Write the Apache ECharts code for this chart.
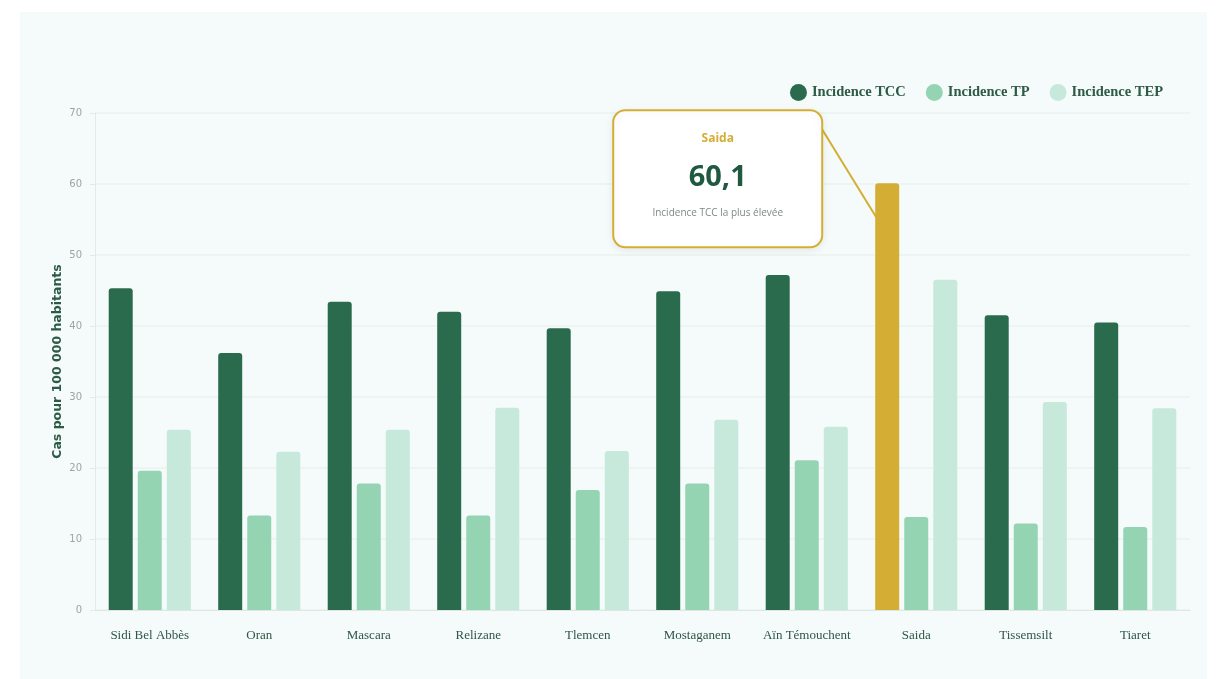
<!DOCTYPE html>
<html lang="fr">
<head>
<meta charset="utf-8">
<title>Incidence de la tuberculose par wilaya</title>
<script src="https://cdn.jsdelivr.net/npm/echarts@6/dist/echarts.min.js"></script>
<style>
  html, body { margin: 0; padding: 0; background: #ffffff; }
  body { width: 1216px; height: 679px; position: relative; overflow: hidden; }
  #panel { position: absolute; left: 20px; top: 12px; width: 1187px; height: 667px; background: #f4fbfa; }
  #chart { position: absolute; left: 0; top: 0; width: 1216px; height: 679px; }
</style>
</head>
<body>
<div id="panel"></div>
<div id="chart"></div>
<script>
// Wilayas (x axis)
const wilayas = ['Sidi Bel Abbès', 'Oran', 'Mascara', 'Relizane', 'Tlemcen',
                 'Mostaganem', 'Aïn Témouchent', 'Saida', 'Tissemsilt', 'Tiaret'];
// Incidence, cas pour 100 000 habitants
const incidenceTCC = [45.3, 36.2, 43.4, 42.0, 39.7, 44.9, 47.2, 60.1, 41.5, 40.5];
const incidenceTP  = [19.6, 13.3, 17.8, 13.3, 16.9, 17.8, 21.1, 13.1, 12.2, 11.7];
const incidenceTEP = [25.4, 22.3, 25.4, 28.5, 22.4, 26.8, 25.8, 46.5, 29.3, 28.4];
const seriesNames = ['Incidence TCC', 'Incidence TP', 'Incidence TEP'];
const yTicks = { min: 0, max: 70, interval: 10 };

// Highlighted wilaya: highest TCC incidence
const peakIndex = incidenceTCC.indexOf(Math.max(...incidenceTCC));

const COLORS = { tcc: '#2b6b4d', tp: '#95d4b3', tep: '#c6e9db', gold: '#d4ae34' };

const chart = echarts.init(document.getElementById('chart'), null, { renderer: 'canvas' });

const tccData = incidenceTCC.map((v, i) => i === peakIndex
  ? { value: v, itemStyle: { color: COLORS.gold } }
  : v);

const barCommon = {
  type: 'bar',
  barWidth: 24,
  barGap: '21%',
  barCategoryGap: '34%',
  itemStyle: { borderRadius: [3, 3, 0, 0] },
  emphasis: { disabled: true }
};

chart.setOption({
  animation: false,
  backgroundColor: 'transparent',
  legend: {
    data: seriesNames,
    right: 48,
    top: 79,
    icon: 'circle',
    itemWidth: 17,
    itemHeight: 17,
    itemGap: 20,
    textStyle: { fontFamily: 'Liberation Serif', fontSize: 14.5, fontWeight: 'bold', color: '#2e5a46' }
  },
  grid: { left: 95, right: 26, top: 113, bottom: 69 },
  xAxis: {
    type: 'category',
    data: wilayas,
    axisLine: { lineStyle: { color: '#dfe7e3', width: 1 } },
    axisTick: { show: false },
    axisLabel: { margin: 19, fontFamily: 'Liberation Serif', fontSize: 13, color: '#2f5646', interval: 0 }
  },
  yAxis: {
    type: 'value',
    min: yTicks.min,
    max: yTicks.max,
    interval: yTicks.interval,
    name: 'Cas pour 100 000 habitants',
    nameLocation: 'middle',
    nameRotate: 90,
    nameGap: 31,
    nameMoveOverlap: false,
    nameTextStyle: { fontFamily: 'DejaVu Sans', fontWeight: 'bold', fontSize: 12.5, color: '#2d5a45' },
    axisLine: { show: true, lineStyle: { color: '#e3ebe7' } },
    axisTick: { show: true, length: 5, lineStyle: { color: '#e3ebe7' } },
    axisLabel: { margin: 13, fontFamily: 'DejaVu Sans', fontSize: 10, color: '#9aa6a0' },
    splitLine: { lineStyle: { color: '#eaf3ef', width: 1.5 } }
  },
  series: [
    Object.assign({ name: seriesNames[0], data: tccData, color: COLORS.tcc }, barCommon),
    Object.assign({ name: seriesNames[1], data: incidenceTP, color: COLORS.tp }, barCommon),
    Object.assign({ name: seriesNames[2], data: incidenceTEP, color: COLORS.tep }, barCommon)
  ]
});

// Callout for the highest TCC incidence, anchored to the bar's own layout
function drawCallout() {
  const layout = chart.getModel().getSeriesByIndex(0).getData().getItemLayout(peakIndex);
  const barLeft = layout.x;
  const barTop = layout.y + layout.height;
  const boxW = 209, boxH = 137;
  const boxRight = barLeft - 53;
  const boxLeft = boxRight - boxW;
  const boxTop = barTop - 73;
  const cx = boxLeft + boxW / 2;
  const value = incidenceTCC[peakIndex].toFixed(1).replace('.', ',');

  chart.setOption({
    graphic: [
      {
        type: 'line',
        z: 5,
        shape: { x1: boxRight - 2, y1: boxTop + 16, x2: barLeft + 1, y2: barTop + 34 },
        style: { stroke: COLORS.gold, lineWidth: 2 }
      },
      {
        type: 'rect',
        z: 10,
        shape: { x: boxLeft, y: boxTop, width: boxW, height: boxH, r: 12 },
        style: {
          fill: '#ffffff', stroke: COLORS.gold, lineWidth: 2,
          shadowBlur: 8, shadowColor: 'rgba(0,0,0,0.08)', shadowOffsetY: 2
        }
      },
      {
        type: 'text', z: 11,
        style: {
          x: cx, y: boxTop + 28, text: wilayas[peakIndex], align: 'center', verticalAlign: 'middle',
          fill: COLORS.gold, font: 'bold 12px "Open Sans"'
        }
      },
      {
        type: 'text', z: 11,
        style: {
          x: cx, y: boxTop + 67, text: value, align: 'center', verticalAlign: 'middle',
          fill: '#1f5a40', font: 'bold 29px "Open Sans"'
        }
      },
      {
        type: 'text', z: 11,
        style: {
          x: cx, y: boxTop + 103, text: 'Incidence TCC la plus élevée', align: 'center', verticalAlign: 'middle',
          fill: '#7d8a84', font: '10px "Open Sans"'
        }
      }
    ]
  });
}
drawCallout();
</script>
</body>
</html>
